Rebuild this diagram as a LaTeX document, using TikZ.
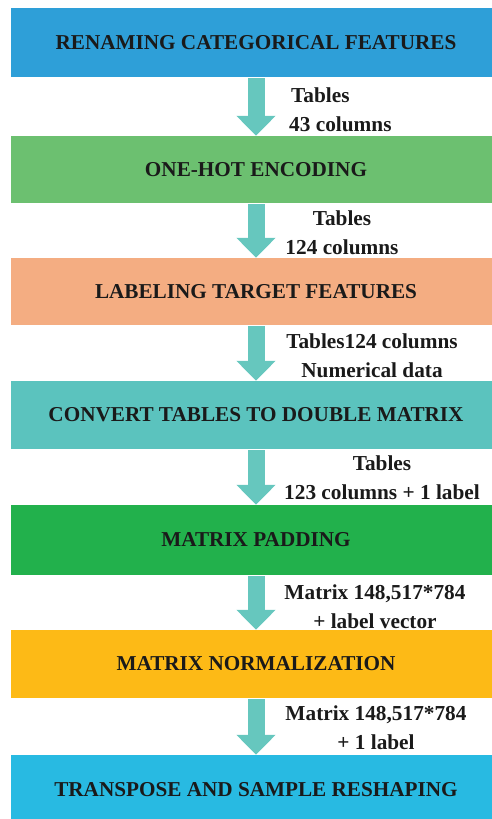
\documentclass[tikz,border=0pt]{standalone}
\usepackage{fontspec}
\setmainfont{Liberation Serif}
\usetikzlibrary{arrows.meta}
\definecolor{cA}{HTML}{2E9FD8}
\definecolor{cB}{HTML}{6CC070}
\definecolor{cC}{HTML}{F4AD82}
\definecolor{cD}{HTML}{5BC3BE}
\definecolor{cE}{HTML}{22B14C}
\definecolor{cF}{HTML}{FDBA16}
\definecolor{cG}{HTML}{28BAE2}
\definecolor{arr}{HTML}{66C7BE}
\definecolor{txt}{HTML}{1A1A1A}
\tikzset{
  stagebox/.style={rectangle, minimum width=490pt, inner sep=0pt, text=txt,
    font=\fontsize{21.2}{24}\selectfont\bfseries},
  flowarrow/.style={draw=arr, line width=17pt,
    -{Triangle[width=38pt,length=20pt]}, shorten <=1pt},
  note/.style={align=center, inner sep=0pt, text=txt,
    font=\fontsize{21.3}{29}\selectfont\bfseries}
}
\begin{document}
\begin{tikzpicture}[x=1pt,y=-1pt]
\useasboundingbox (0,0) rectangle (492,819);
\clip (0,0) rectangle (492,819);
\node[stagebox, fill=cA, minimum height=69pt] (b1) at (256,42.5) {RENAMING CATEGORICAL FEATURES};
\node[stagebox, fill=cB, minimum height=67pt] (b2) at (256,169.5) {ONE-HOT ENCODING};
\node[stagebox, fill=cC, minimum height=67pt] (b3) at (256,291.5) {LABELING TARGET FEATURES};
\node[stagebox, fill=cD, minimum height=68pt] (b4) at (256,415) {CONVERT TABLES TO DOUBLE MATRIX};
\node[stagebox, fill=cE, minimum height=70pt] (b5) at (256,540) {MATRIX PADDING};
\node[stagebox, fill=cF, minimum height=68pt] (b6) at (256,664) {MATRIX NORMALIZATION};
\node[stagebox, fill=cG, minimum height=70pt] (b7) at (256,790) {TRANSPOSE AND SAMPLE RESHAPING};
\draw[flowarrow] (b1.south) -- (b2.north);
\draw[flowarrow] (b2.south) -- (b3.north);
\draw[flowarrow] (b3.south) -- (b4.north);
\draw[flowarrow] (b4.south) -- (b5.north);
\draw[flowarrow] (b5.south) -- (b6.north);
\draw[flowarrow] (b6.south) -- (b7.north);
\node[note, align=left, anchor=west] (l1) at (289,109.5) {\hspace*{2pt}Tables\\43 columns};
\node[note] (l2) at (342,232.5) {Tables\\124 columns};
\node[note] (l3) at (372,355.5) {Tables124 columns\\Numerical data};
\node[note] (l4) at (382,478) {Tables\\123 columns + 1 label};
\node[note] (l5) at (375,607) {Matrix 148,517*784\\+ label vector};
\node[note] (l6) at (376,727.5) {Matrix 148,517*784\\+ 1 label};
\end{tikzpicture}
\end{document}
